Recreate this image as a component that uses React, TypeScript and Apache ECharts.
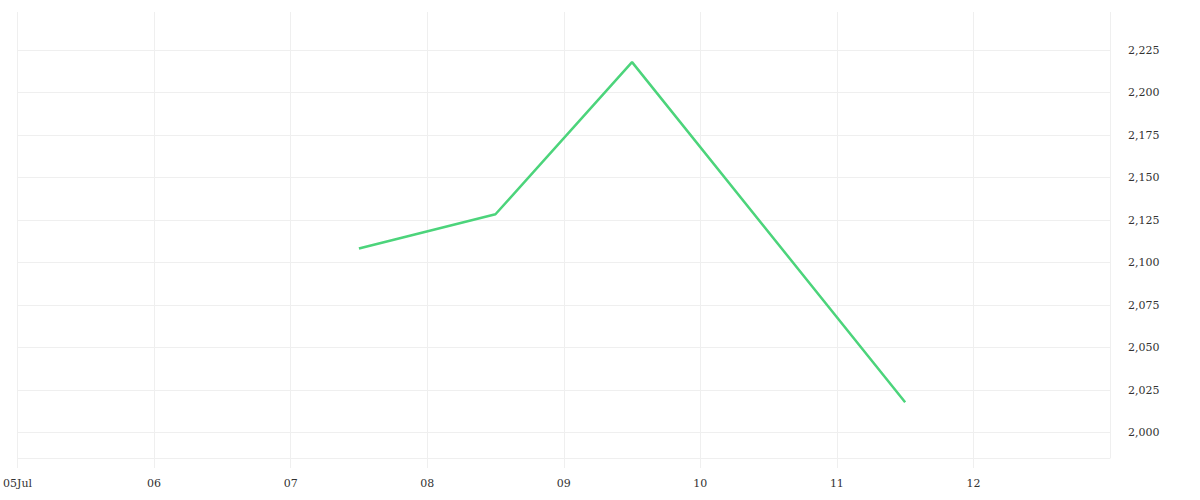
import React, { useEffect, useRef } from "react";
import * as echarts from "echarts";

const DAY = 86400000;
const dates: string[] = ["2024-07-07T12:00:00Z", "2024-07-08T12:00:00Z", "2024-07-09T12:00:00Z", "2024-07-11T12:00:00Z"];
const values: number[] = [2108.3, 2128.4, 2217.9, 2017.8];
const yTicks: number[] = [2000, 2025, 2050, 2075, 2100, 2125, 2150, 2175, 2200, 2225];
const xStart = "2024-07-05T00:00:00Z";
const xEnd = "2024-07-13T00:00:00Z";
const yMin = 1985;
const yMax = 2247.4;

const GRID = "#efefef";
const TEXT = "#333333";
const FONT = "DejaVu Serif";

export default function App() {
  const ref = useRef<HTMLDivElement>(null);
  useEffect(() => {
    if (!ref.current) return;
    const chart = echarts.init(ref.current, undefined, { renderer: "svg" });
    const data = dates.map((d, i) => [Date.parse(d), values[i]]);
    chart.setOption({
      animation: false,
      backgroundColor: "#ffffff",
      textStyle: { fontFamily: FONT },
      grid: { left: 15, right: 90, top: 12, bottom: 42, containLabel: false },
      xAxis: {
        type: "value",
        min: Date.parse(xStart),
        max: Date.parse(xEnd),
        interval: DAY,
        axisLine: { show: true, lineStyle: { color: GRID, width: 1 } },
        axisTick: { show: true, length: 10, lineStyle: { color: GRID, width: 1 } },
        splitLine: { show: true, lineStyle: { color: GRID, width: 1 } },
        axisLabel: {
          show: true,
          color: TEXT,
          fontSize: 11,
          fontFamily: FONT,
          margin: 20,
          showMaxLabel: false,
          formatter: (v: number) => {
            const d = new Date(v);
            const dd = String(d.getUTCDate()).padStart(2, "0");
            return v === Date.parse(xStart) ? dd + "Jul" : dd;
          },
        },
      },
      yAxis: {
        type: "value",
        position: "right",
        min: yMin,
        max: yMax,
        minInterval: 25,
        maxInterval: 25,
        axisLine: { show: false },
        axisTick: { show: false },
        splitLine: { show: false },
        axisLabel: {
          color: TEXT,
          fontSize: 11,
          fontFamily: FONT,
          margin: 18,
          padding: [5, 0, 0, 0],
          showMinLabel: false,
          showMaxLabel: false,
          formatter: (v: number) => v.toLocaleString("en-US"),
        },
      },
      series: [
        {
          type: "line",
          data,
          showSymbol: false,
          symbol: "none",
          lineStyle: { color: "#4cd47b", width: 2.5 },
          itemStyle: { color: "#4cd47b" },
          markLine: {
            silent: true,
            symbol: "none",
            label: { show: false },
            lineStyle: { color: GRID, width: 1, type: "solid" },
            data: yTicks.map((t) => ({ yAxis: t })),
            z: 0,
          },
          z: 3,
        },
      ],
    });
    return () => chart.dispose();
  }, []);
  return (
    <div
      ref={ref}
      style={{ position: "absolute", left: 0, top: 0, width: 1200, height: 500 }}
    />
  );
}
